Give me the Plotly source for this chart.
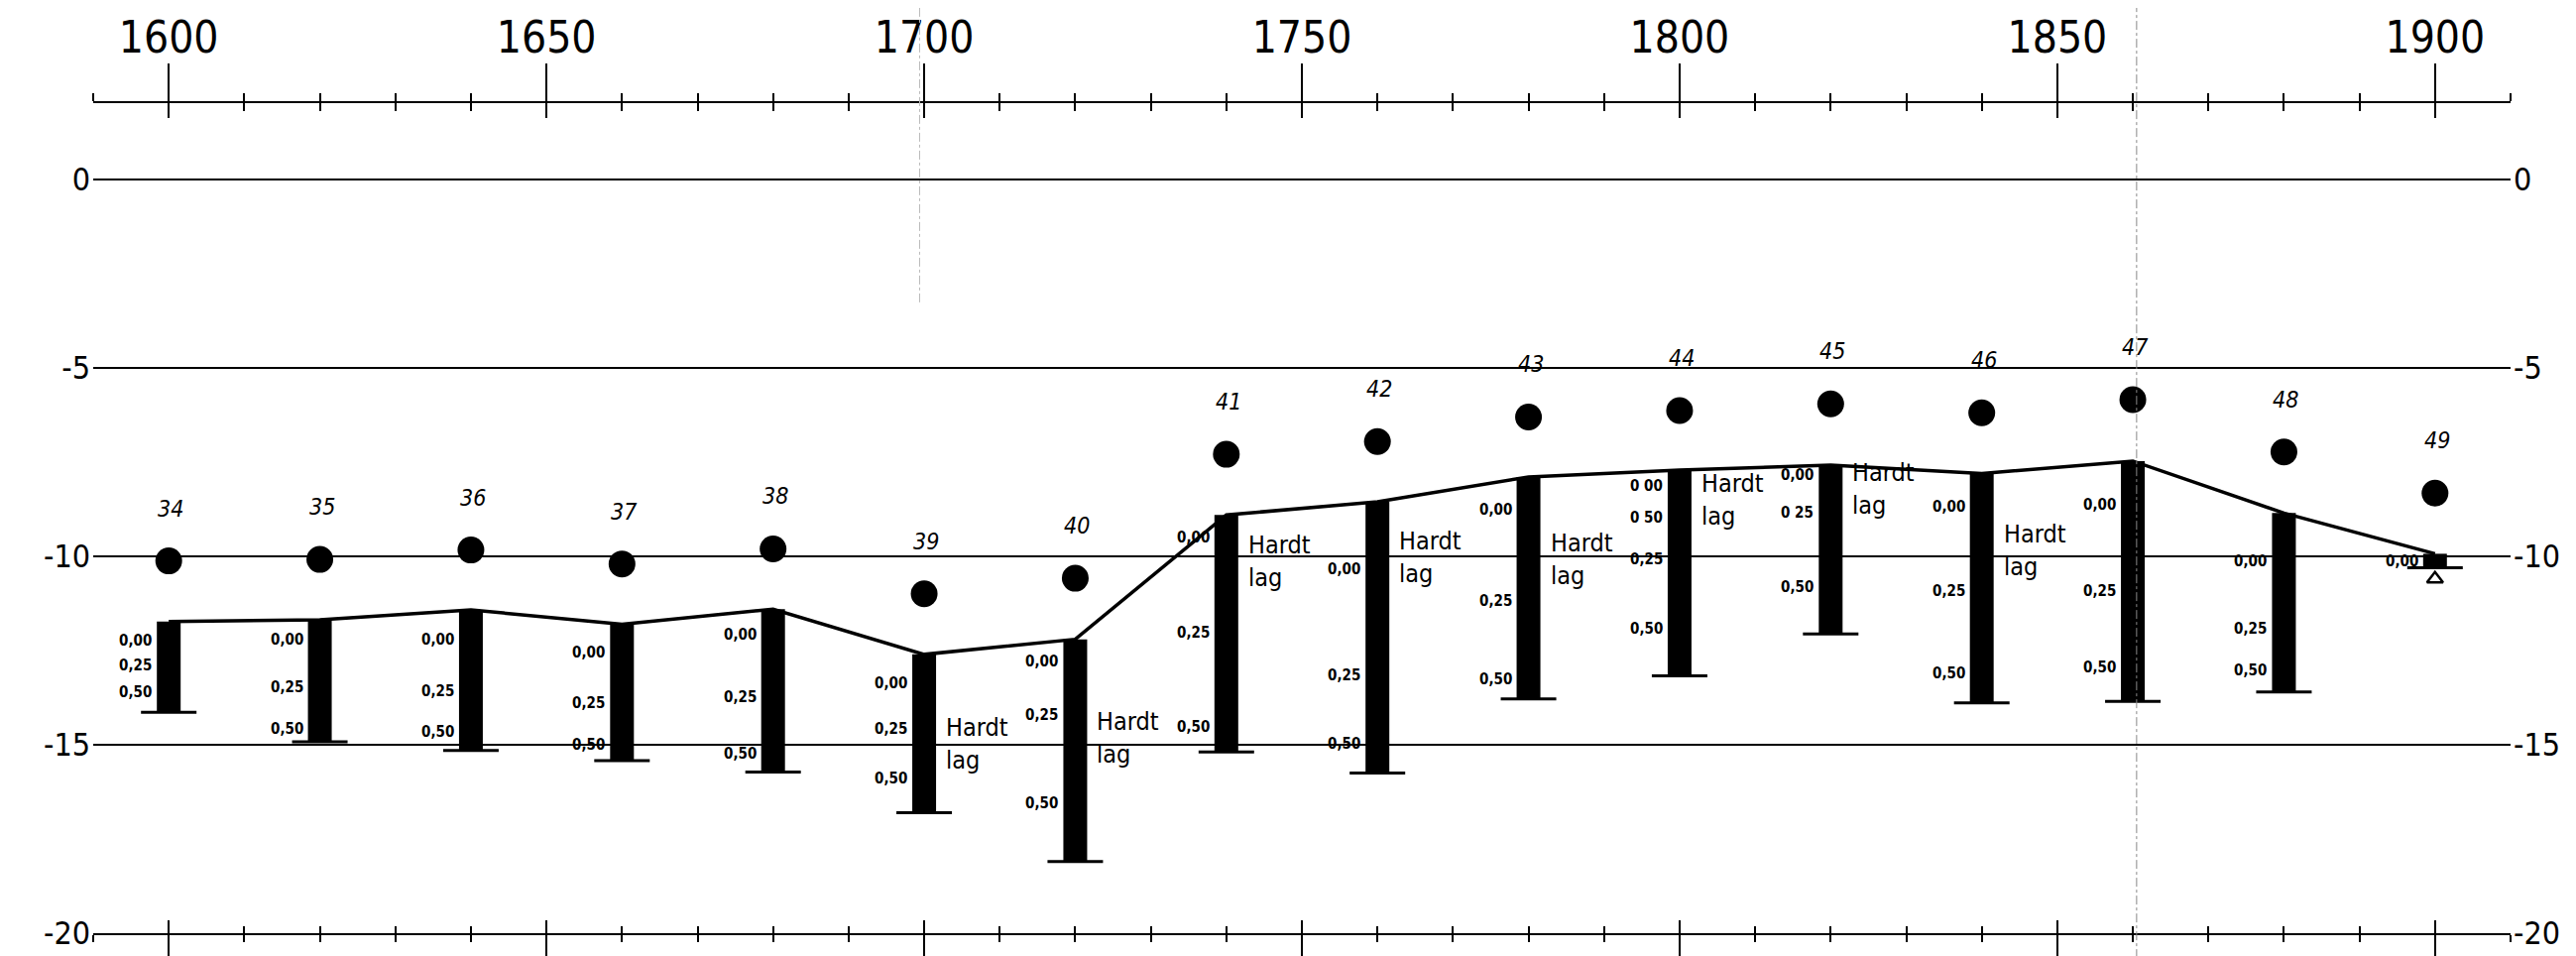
import plotly.graph_objects as go

# borehole positions along the section (plotted on the year scale)
years = [1600, 1620, 1640, 1660, 1680, 1700, 1720, 1740,
         1760, 1780, 1800, 1820, 1840, 1860, 1880, 1900]
hole_ids = ["34", "35", "36", "37", "38", "39", "40", "41",
            "42", "43", "44", "45", "46", "47", "48", "49"]

# levels
dot_levels = [-10.12, -10.08, -9.83, -10.2, -9.8, -10.99, -10.58, -7.29,
              -6.95, -6.3, -6.13, -5.95, -6.19, -5.84, -7.23, -8.32]
top_levels = [-11.73, -11.68, -11.42, -11.8, -11.4, -12.6, -12.2, -8.9,
              -8.55, -7.89, -7.71, -7.58, -7.8, -7.47, -8.85, -9.93]
bottom_levels = [-14.14, -14.92, -15.15, -15.42, -15.72, -16.8, -18.1, -15.19,
                 -15.75, -13.78, -13.17, -12.06, -13.89, -13.85, -13.6, -10.3]

depth_texts = [
    ["0,00", "0,25", "0,50"], ["0,00", "0,25", "0,50"], ["0,00", "0,25", "0,50"],
    ["0,00", "0,25", "0,50"], ["0,00", "0,25", "0,50"], ["0,00", "0,25", "0,50"],
    ["0,00", "0,25", "0,50"], ["0,00", "0,25", "0,50"], ["0,00", "0,25", "0,50"],
    ["0,00", "0,25", "0,50"], ["0 00", "0 50", "0,25", "0,50"], ["0,00", "0 25", "0,50"],
    ["0,00", "0,25", "0,50"], ["0,00", "0,25", "0,50"], ["0,00", "0,25", "0,50"],
    ["0,00"],
]
depth_levels = [
    [-12.24, -12.9, -13.6], [-12.22, -13.48, -14.57], [-12.22, -13.57, -14.67],
    [-12.54, -13.89, -15.0], [-12.08, -13.74, -15.24], [-13.38, -14.59, -15.9],
    [-12.8, -14.22, -16.56], [-9.49, -12.02, -14.53], [-10.35, -13.16, -14.96],
    [-8.77, -11.17, -13.25], [-8.14, -8.98, -10.07, -11.91], [-7.83, -8.83, -10.81],
    [-8.69, -10.92, -13.11], [-8.64, -10.92, -12.94], [-10.13, -11.92, -13.03],
    [-10.12],
]

hardt_years = [1700, 1720, 1740, 1760, 1780, 1800, 1820, 1840]
hardt_levels = [-14.98, -14.82, -10.13, -10.02, -10.07, -8.5, -8.22, -9.84]

water_years = [1900]
water_levels = [-10.6]

level_ticks = [0, -5, -10, -15, -20]
level_labels = ["0", "-5", "-10", "-15", "-20"]

NARROW = "DejaVu Sans Condensed, Liberation Sans Narrow, sans-serif"


def main():
    fig = go.Figure()

    # probe columns
    fig.add_trace(go.Bar(x=years, base=top_levels,
                         y=[b - t for b, t in zip(bottom_levels, top_levels)],
                         width=3.15, marker=dict(color="black", line=dict(width=0)),
                         hoverinfo="skip"))
    # feet of the columns
    fig.add_trace(go.Scatter(x=years, y=bottom_levels, mode="markers",
                             marker=dict(symbol="line-ew", size=40, color="black",
                                         line=dict(color="black", width=3))))
    # line joining the column tops
    fig.add_trace(go.Scatter(x=years, y=top_levels, mode="lines",
                             line=dict(color="black", width=3.5)))
    # dots
    fig.add_trace(go.Scatter(x=years, y=dot_levels, mode="markers",
                             marker=dict(size=27, color="black", line=dict(width=0))))
    # water level symbol
    fig.add_trace(go.Scatter(x=water_years, y=water_levels, mode="markers",
                             marker=dict(symbol="triangle-up-open", size=14, color="black",
                                         line=dict(color="black", width=2.5))))

    # dummy traces so the overlaying axes get drawn
    for xa in ("x2", "x3", "x4"):
        fig.add_trace(go.Scatter(x=[None], y=[None], xaxis=xa, yaxis="y", mode="markers"))
    fig.add_trace(go.Scatter(x=[None], y=[None], xaxis="x", yaxis="y2", mode="markers"))

    ann = []
    for yr, hid, lv in zip(years, hole_ids, dot_levels):
        ann.append(dict(x=yr, y=lv, text=hid, showarrow=False, yshift=53, xshift=2,
                        font=dict(family=NARROW, size=23, color="black", style="italic")))
    for yr, txts, lvs in zip(years, depth_texts, depth_levels):
        for t, lv in zip(txts, lvs):
            ann.append(dict(x=yr, y=lv, text=t, showarrow=False, xanchor="right", xshift=-15,
                            font=dict(family=NARROW, size=15, color="black", weight="bold")))
    for yr, lv in zip(hardt_years, hardt_levels):
        ann.append(dict(x=yr, y=lv, text="Hardt<br>lag", showarrow=False, xanchor="left",
                        align="left", xshift=20,
                        font=dict(family=NARROW, size=25, color="black")))

    xcommon = dict(range=[1590, 1910], tick0=1600, dtick=50, showgrid=False, zeroline=False,
                   tickcolor="black", tickwidth=2, fixedrange=True, automargin=False)
    ycommon = dict(range=[-20, 2.03], tickvals=level_ticks, ticktext=level_labels,
                   zeroline=False, ticks="", ticklabelstandoff=2, automargin=False,
                   tickfont=dict(family=NARROW, size=32, color="black"))

    # the page body adds an 8px margin, so the figure is 8px smaller
    fig.update_layout(
        width=2590, height=956,
        margin=dict(l=86, r=66, t=96, b=23),
        paper_bgcolor="white", plot_bgcolor="white",
        showlegend=False, barmode="overlay",
        annotations=ann,
        xaxis=dict(**xcommon, side="bottom", anchor="y", showline=True, linecolor="black",
                   linewidth=2, ticks="outside", ticklen=30, showticklabels=False,
                   minor=dict(dtick=10, tick0=1600, ticks="outside", ticklen=7, tickwidth=2,
                              tickcolor="black", showgrid=False)),
        xaxis2=dict(**xcommon, overlaying="x", side="bottom", anchor="y", ticks="inside",
                    ticklen=13, showticklabels=False,
                    minor=dict(dtick=10, tick0=1600, ticks="inside", ticklen=7, tickwidth=2,
                               tickcolor="black", showgrid=False)),
        xaxis3=dict(**xcommon, overlaying="x", side="top", anchor="y", showline=True,
                    linecolor="black", linewidth=2, ticks="outside", ticklen=38,
                    ticklabelstandoff=-7,
                    tickfont=dict(family=NARROW, size=44, color="black"),
                    minor=dict(dtick=10, tick0=1600, ticks="outside", ticklen=8, tickwidth=2,
                               tickcolor="black", showgrid=False)),
        xaxis4=dict(**xcommon, overlaying="x", side="top", anchor="y", ticks="inside",
                    ticklen=15, showticklabels=False,
                    minor=dict(dtick=10, tick0=1600, ticks="inside", ticklen=8, tickwidth=2,
                               tickcolor="black", showgrid=False)),
        yaxis=dict(**ycommon, side="left", showgrid=True, gridcolor="black", gridwidth=2),
        yaxis2=dict(**ycommon, side="right", overlaying="y", anchor="x", showgrid=False),
        shapes=[
            # fold marks of the scanned sheet
            dict(type="line", xref="x", yref="paper", x0=1860.5, x1=1860.5, y0=-0.03, y1=1.13,
                 line=dict(color="#888888", width=1, dash="dashdot")),
            dict(type="line", xref="x", yref="paper", x0=1699.4, x1=1699.4, y0=0.76, y1=1.13,
                 line=dict(color="#bbbbbb", width=1, dash="dashdot")),
        ],
    )
    fig.write_html("out.html")


if __name__ == "__main__":
    main()
